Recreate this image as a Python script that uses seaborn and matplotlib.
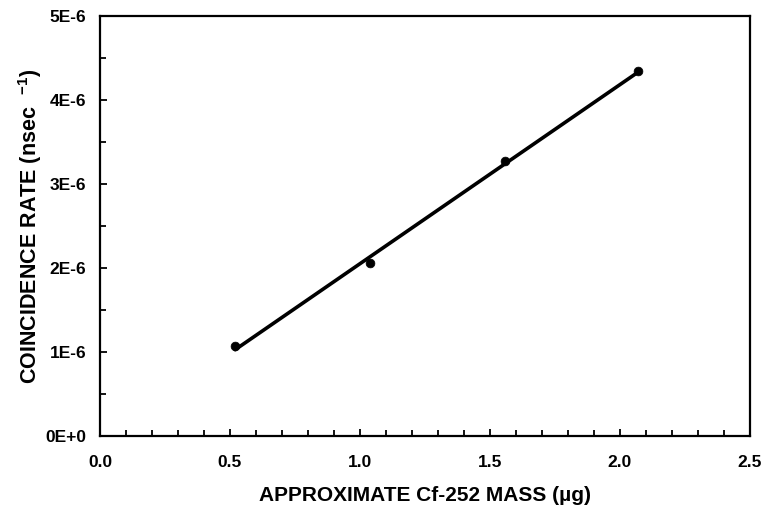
import numpy as np
import pandas as pd
import seaborn as sns
import matplotlib.pyplot as plt
from matplotlib.ticker import MultipleLocator

# data
mass_ug = [0.52, 1.04, 1.56, 2.07]
rate = [1.07e-6, 2.06e-6, 3.27e-6, 4.34e-6]
y_ticks = [0, 1e-6, 2e-6, 3e-6, 4e-6, 5e-6]
y_tick_labels = ["0E+0", "1E-6", "2E-6", "3E-6", "4E-6", "5E-6"]
x_ticks = [0.0, 0.5, 1.0, 1.5, 2.0, 2.5]

df = pd.DataFrame({"mass": mass_ug, "rate": rate})

sns.set_style("ticks")
plt.rcParams["font.family"] = ["Liberation Sans", "DejaVu Sans"]
plt.rcParams["font.weight"] = "bold"
plt.rcParams["mathtext.fontset"] = "custom"
plt.rcParams["mathtext.rm"] = "Liberation Sans:bold"
plt.rcParams["mathtext.default"] = "rm"
for key in ["text.color", "axes.labelcolor", "xtick.color", "ytick.color"]:
    plt.rcParams[key] = "black"

fig = plt.figure(figsize=(7.73, 5.08), dpi=100)
ax = fig.add_axes([0.1294, 0.1417, 0.8406, 0.8268])

# least-squares line through the points
slope, icpt = np.polyfit(df["mass"], df["rate"], 1)
fit = pd.DataFrame({"mass": [df["mass"].min(), df["mass"].max()]})
fit["rate"] = slope * fit["mass"] + icpt
sns.lineplot(data=fit, x="mass", y="rate", ax=ax, color="black", linewidth=2.6)
sns.scatterplot(data=df, x="mass", y="rate", ax=ax, color="black", s=40,
                edgecolor="black", zorder=3)

ax.set_xlim(0, 2.5)
ax.set_ylim(0, 5e-6)
ax.set_xticks(x_ticks)
ax.set_xticklabels([f"{v:.1f}" for v in x_ticks])
ax.set_yticks(y_ticks)
ax.set_yticklabels(y_tick_labels)
ax.xaxis.set_minor_locator(MultipleLocator(0.1))
ax.yaxis.set_minor_locator(MultipleLocator(0.5e-6))
ax.tick_params(which="both", direction="in", width=1.3, labelsize=12.5,
               top=False, right=False)
ax.tick_params(axis="x", pad=14)
ax.tick_params(axis="y", pad=10)
ax.tick_params(which="major", length=5)
ax.tick_params(which="minor", length=4)
for lab in ax.get_xticklabels() + ax.get_yticklabels():
    lab.set_fontweight("bold")

for sp in ax.spines.values():
    sp.set_visible(True)
    sp.set_linewidth(1.6)
    sp.set_color("black")

ax.set_xlabel("APPROXIMATE Cf-252 MASS (\u00b5g)", fontsize=15, fontweight="bold", labelpad=11)
ax.set_ylabel("COINCIDENCE RATE (nsec  $^{-1}$)", fontsize=15.5, fontweight="bold", labelpad=1)

fig.savefig("out.png", dpi=100)
